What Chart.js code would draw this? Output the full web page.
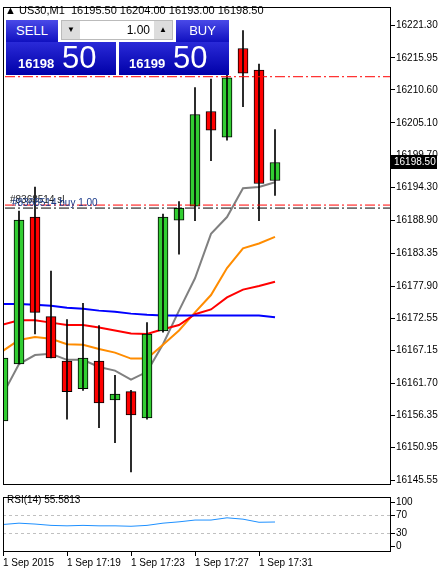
<!DOCTYPE html>
<html><head><meta charset="utf-8">
<script src="https://cdn.jsdelivr.net/npm/chart.js@4"></script>
<style>
body{margin:0;background:#fff;font-family:"Liberation Sans",sans-serif;}
#wrap{position:relative;width:438px;height:574px;overflow:hidden;}
canvas{position:absolute;left:0;}
.t{position:absolute;font-size:11px;color:#000;white-space:nowrap;}
.btn{position:absolute;background:linear-gradient(#4a4ae8,#1010c0);color:#fff;}
.blk{position:absolute;background:linear-gradient(#2a2ad8,#0000a8);color:#fff;}
</style></head><body>
<div id="wrap">
<canvas id="main" width="438" height="492" style="top:0"></canvas>
<canvas id="rsi" width="438" height="82" style="top:490px"></canvas>
<div class="t" style="left:5px;top:4px;">&#9650; US30,M1&nbsp; 16195.50 16204.00 16193.00 16198.50</div>
<div class="btn" style="left:6px;top:20px;width:52px;height:22px;font-size:13px;text-align:center;line-height:22px;">SELL</div>
<div class="blk" style="left:6px;top:42px;width:110px;height:33px;"><span style="position:absolute;left:12px;top:14px;font-size:13px;font-weight:bold;">16198</span><span style="position:absolute;left:56px;top:-2px;font-size:31px;">50</span></div>
<div style="position:absolute;left:61px;top:20px;width:112px;height:20px;background:#fff;border:1px solid #bbb;box-sizing:border-box;">
 <div style="position:absolute;left:0;top:0;width:18px;height:18px;background:#ddd;font-size:8px;text-align:center;line-height:18px;">&#9660;</div>
 <div style="position:absolute;right:22px;top:2px;font-size:12px;">1.00</div>
 <div style="position:absolute;right:0;top:0;width:18px;height:18px;background:#ddd;font-size:8px;text-align:center;line-height:18px;">&#9650;</div>
</div>
<div class="btn" style="left:176px;top:20px;width:53px;height:22px;font-size:13px;text-align:center;line-height:22px;">BUY</div>
<div class="blk" style="left:119px;top:42px;width:110px;height:33px;"><span style="position:absolute;left:10px;top:14px;font-size:13px;font-weight:bold;">16199</span><span style="position:absolute;left:54px;top:-2px;font-size:31px;">50</span></div>
<div class="t" style="left:10px;top:194px;font-size:10px;color:#222;">#8368514 sl</div>
<div class="t" style="left:12px;top:197px;font-size:10px;color:#1a3a8a;">#8368514 buy 1.00</div>
<div class="t" style="left:7px;top:494px;font-size:10px;">RSI(14) 55.5813</div>
</div>
<script>
var openP  = [16155.4,16164.9,16189.4,16172.8,16165.4,16160.8,16165.4,16158.9,16160.3,16155.9,16170.4,16188.9,16191.2,16207.0,16202.7,16217.5,16213.9,16195.5];
var highP  = [16166.5,16190.4,16194.4,16180.4,16172.3,16175.0,16171.3,16163.0,16160.5,16171.8,16189.9,16192.0,16211.0,16212.4,16220.6,16220.5,16214.9,16204.0];
var lowP   = [16150.8,16164.9,16169.9,16165.9,16155.7,16160.5,16154.3,16151.8,16146.9,16155.7,16170.2,16183.2,16188.8,16198.8,16202.2,16207.8,16188.8,16193.0];
var closeP = [16165.9,16188.9,16173.5,16165.9,16160.3,16165.9,16158.4,16159.9,16156.4,16169.9,16189.4,16190.9,16206.5,16203.9,16212.6,16213.4,16195.0,16198.5];
var maBlue   = [16174.9,16174.9,16174.8,16174.6,16174.3,16174.1,16173.8,16173.6,16173.3,16173.1,16173.0,16173.0,16173.0,16173.0,16173.0,16173.0,16173.0,16172.7];
var maRed    = [16171.5,16172.2,16172.2,16171.8,16171.4,16171.4,16171.0,16170.5,16170.0,16169.9,16170.7,16171.4,16173.2,16174.0,16176.0,16177.3,16177.9,16178.6];
var maOrange = [16167.1,16168.9,16169.4,16169.1,16168.2,16168.1,16167.4,16166.8,16165.8,16165.8,16168.1,16170.5,16173.5,16176.4,16180.9,16184.2,16185.0,16186.1];
var maGray   = [16159.9,16164.9,16166.4,16166.6,16165.6,16165.6,16164.4,16163.8,16162.3,16163.6,16168.2,16173.8,16179.2,16186.6,16189.4,16194.2,16194.4,16195.2];
var rsiVals  = [50,53,51,48,47,48,47,47,46,48,53,56,60,60,65,62,55,55.6];
var priceTicks = [16221.30,16215.95,16210.60,16205.10,16199.70,16194.30,16188.90,16183.35,16177.90,16172.55,16167.15,16161.70,16156.35,16150.95,16145.55];
var timeTicks = [0,4,8,12,16];
var timeLabels = ['1 Sep 2015','1 Sep 17:19','1 Sep 17:23','1 Sep 17:27','1 Sep 17:31'];
var orderLevels = [16212.8,16191.4];
var buyLevel = 16190.9;
var lastPrice = 16198.50;

var FONT = {family:'Liberation Sans', size:10};
var XMAX = 24.25;
function pts(arr){ return arr.map(function(v,i){ return {x:i,y:v}; }); }
function hline(v){ return [{x:-1,y:v},{x:XMAX+1,y:v}]; }

var frame = {
  id:'frame',
  afterDraw:function(c){
    var a=c.chartArea, ctx=c.ctx;
    ctx.save(); ctx.strokeStyle='#000'; ctx.lineWidth=1;
    ctx.strokeRect(a.left+0.5,a.top+0.5,a.right-a.left-1,a.bottom-a.top-1);
    var yv=c.scales.y;
    if(c.canvas.id==='main'){
      var py=Math.round(yv.getPixelForValue(lastPrice));
      ctx.fillStyle='#000'; ctx.fillRect(a.right,py-7,46,14);
      ctx.fillStyle='#fff'; ctx.font='10px Liberation Sans'; ctx.textBaseline='middle';
      ctx.fillText(lastPrice.toFixed(2),a.right+3,py);
    }
    ctx.restore();
  }
};

var bodyColors = openP.map(function(o,i){ return closeP[i]>=o ? '#32cd32' : '#ff0000'; });

new Chart(document.getElementById('main'), {
  type:'bar',
  data:{datasets:[
    {type:'line',data:hline(orderLevels[0]),borderColor:'#ff0000',borderWidth:1,borderDash:[10,3,2,3],pointRadius:0},
    {type:'line',data:hline(orderLevels[1]),borderColor:'#ff0000',borderWidth:1,borderDash:[10,3,2,3],pointRadius:0},
    {type:'line',data:hline(buyLevel),borderColor:'#000',borderWidth:1,borderDash:[10,3,2,3],pointRadius:0},
    {data:lowP.map(function(l,i){return {x:i,y:[l,highP[i]]};}),backgroundColor:'#000',barThickness:1,grouped:false},
    {data:openP.map(function(o,i){return {x:i,y:[o,closeP[i]]};}),backgroundColor:bodyColors,borderColor:'#000',borderWidth:1,borderSkipped:false,barThickness:10,grouped:false},
    {type:'line',data:pts(maBlue),borderColor:'#0000ff',borderWidth:2,pointRadius:0},
    {type:'line',data:pts(maRed),borderColor:'#ff0000',borderWidth:2,pointRadius:0},
    {type:'line',data:pts(maOrange),borderColor:'#ff8c00',borderWidth:2,pointRadius:0},
    {type:'line',data:pts(maGray),borderColor:'#808080',borderWidth:2,pointRadius:0}
  ]},
  options:{
    responsive:false,animation:false,
    layout:{padding:{left:3,top:3,bottom:0,right:0}},
    plugins:{legend:{display:false},tooltip:{enabled:false}},
    scales:{
      x:{type:'linear',min:0,max:XMAX,offset:false,display:false},
      y:{position:'right',min:16145.55-5*0.1643,max:16221.30+19*0.1643,
        afterBuildTicks:function(s){ s.ticks=priceTicks.map(function(v){return {value:v};}); },
        afterFit:function(s){ s.width=47; },
        grid:{drawOnChartArea:false,tickLength:4,color:'#000'},
        border:{display:false},
        ticks:{color:'#000',font:FONT,padding:1,callback:function(v){return v.toFixed(2);}}
      }
    }
  },
  plugins:[frame]
});

new Chart(document.getElementById('rsi'), {
  type:'line',
  data:{datasets:[
    {data:pts(rsiVals),borderColor:'#1e90ff',borderWidth:1,pointRadius:0}
  ]},
  options:{
    responsive:false,animation:false,
    layout:{padding:{left:3,top:0,right:0,bottom:2}},
    plugins:{legend:{display:false},tooltip:{enabled:false}},
    scales:{
      x:{type:'linear',min:0,max:XMAX,offset:false,
        afterBuildTicks:function(s){ s.ticks=timeTicks.map(function(v){return {value:v};}); },
        grid:{drawOnChartArea:false,tickLength:4,color:'#000'},
        border:{display:false},
        ticks:{color:'#000',font:FONT,align:'start',padding:1,maxRotation:0,autoSkip:false,
          callback:function(v){ return timeLabels[timeTicks.indexOf(v)]; }}
      },
      y:{position:'right',min:-11.8,max:111.8,
        afterBuildTicks:function(s){ s.ticks=[100,70,30,0].map(function(v){return {value:v};}); },
        afterFit:function(s){ s.width=47; },
        grid:{color:function(c){return (c.tick&&(c.tick.value===70||c.tick.value===30))?'#c0c0c0':'rgba(0,0,0,0)';},
          tickColor:'#000',tickLength:4},
        border:{display:false,dash:[3,3]},
        ticks:{color:'#000',font:FONT,padding:1}
      }
    }
  },
  plugins:[frame]
});
</script>
</body></html>
